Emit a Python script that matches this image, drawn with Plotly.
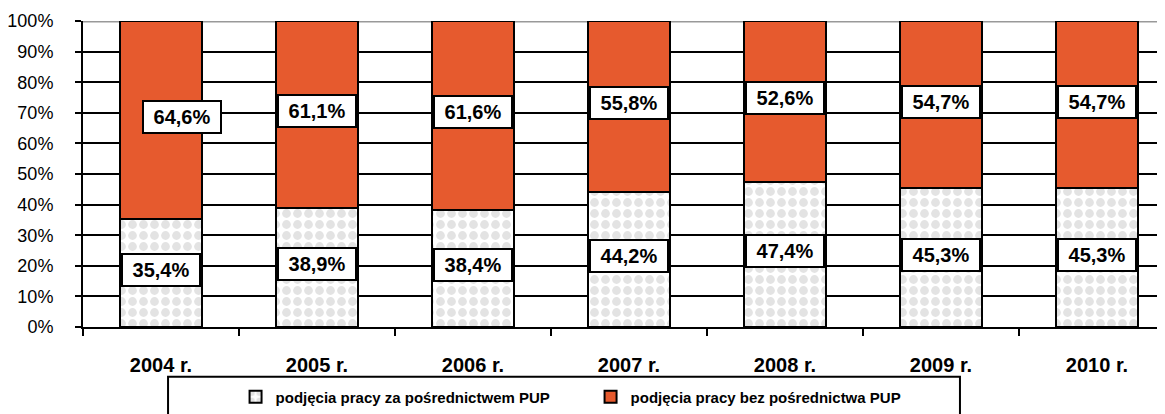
import plotly.graph_objects as go

years = ["2004 r.", "2005 r.", "2006 r.", "2007 r.", "2008 r.", "2009 r.", "2010 r."]
with_pup = [35.4, 38.9, 38.4, 44.2, 47.4, 45.3, 45.3]
without_pup = [64.6, 61.1, 61.6, 55.8, 52.6, 54.7, 54.7]
name_with = "podjęcia pracy za pośrednictwem PUP"
name_without = "podjęcia pracy bez pośrednictwa PUP"

def fmt(v):
    return f"{v:.1f}%".replace(".", ",")

fig = go.Figure()
fig.add_trace(go.Bar(
    x=years, y=with_pup, name=name_with, width=0.52,
    marker=dict(color="white", line=dict(color="black", width=2),
                pattern=dict(shape=".", fgcolor="#c8c8c8", bgcolor="white", size=11, solidity=0.5)),
))
fig.add_trace(go.Bar(
    x=years, y=without_pup, name=name_without, width=0.52,
    marker=dict(color="#E65A2E", line=dict(color="black", width=2)),
))

annotations = []
for i, y in enumerate(years):
    for k, (base, val) in enumerate(((0, with_pup[i]), (with_pup[i], without_pup[i]))):
        annotations.append(dict(
            x=y, y=base + val / 2, xref="x", yref="y", text=fmt(val), showarrow=False,
            font=dict(family="Liberation Sans, Arial", size=20, color="black", weight="bold"),
            bgcolor="white", bordercolor="black", borderwidth=2, borderpad=5,
            width=66, height=20, yshift=3,
            xshift=21 if (i == 0 and k == 1) else 0,
        ))

fig.update_layout(
    width=1157, height=406,
    margin=dict(l=75, r=0, t=13, b=83),
    paper_bgcolor="white", plot_bgcolor="white",
    barmode="stack",
    font=dict(family="Liberation Sans, Arial", color="black"),
    showlegend=True,
    legend=dict(orientation="h", x=0.141, xanchor="left", y=-0.175, yanchor="top",
                traceorder="normal", entrywidth=310, entrywidthmode="pixels",
                font=dict(size=15, weight="bold"), bgcolor="rgba(0,0,0,0)",
                itemwidth=30),
    annotations=annotations,
    shapes=[
        dict(type="line", xref="paper", yref="y", x0=0, x1=1, y0=100, y1=100,
             line=dict(color="#999999", width=3), layer="between"),
        dict(type="rect", xref="paper", yref="paper", x0=0.0786, x1=0.8105, y0=-0.1625, y1=-0.32,
             line=dict(color="black", width=2)),
    ],
)
fig.update_xaxes(
    range=[-0.5, 6.436], showline=True, linecolor="black", linewidth=2,
    ticks="outside", tickson="boundaries", ticklen=7, tickwidth=2, tickcolor="black",
    tickfont=dict(size=20, weight="bold"), showgrid=False, ticklabelstandoff=19,
)
fig.update_yaxes(
    range=[0, 100], dtick=10, ticksuffix="%", showline=True, linecolor="black", linewidth=2,
    ticks="outside", ticklen=6, tickwidth=2, tickcolor="black",
    showgrid=True, gridcolor="black", gridwidth=2, zeroline=False,
    tickfont=dict(size=18), ticklabelstandoff=18,
)

fig.write_html("out.html")
